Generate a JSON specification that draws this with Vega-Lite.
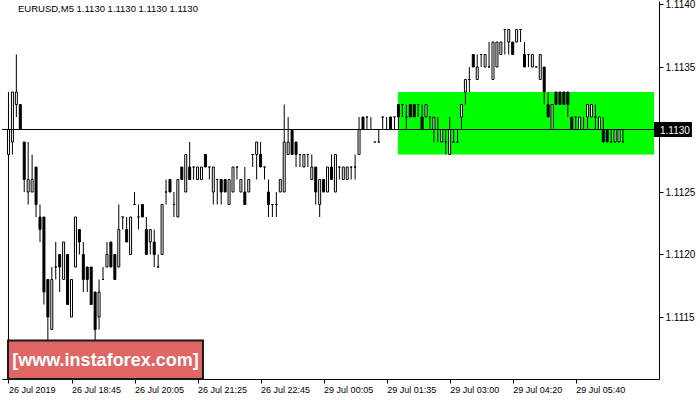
{
  "$schema": "https://vega.github.io/schema/vega-lite/v6.json",
  "width": 657,
  "height": 378,
  "autosize": {"type": "none"},
  "padding": {"left": 2, "top": 1, "right": 41, "bottom": 21},
  "background": "white",
  "config": {"view": {"stroke": null}, "font": "Liberation Sans"},
  "title": {"text": "EURUSD,M5  1.1130 1.1130 1.1130 1.1130", "anchor": "start", "frame": "group", "orient": "top", "offset": -14, "dx": 16, "fontSize": 9.5, "fontWeight": "normal", "color": "black", "font": "Liberation Sans"},
  "datasets": {
    "candles": [
      {"i":0,"o":1.1128,"h":1.1133,"l":1.1112,"c":1.1130},
      {"i":1,"o":1.1129,"h":1.1133,"l":1.1128,"c":1.1133},
      {"i":2,"o":1.1132,"h":1.1136,"l":1.1131,"c":1.1133},
      {"i":3,"o":1.1132,"h":1.1132,"l":1.1130,"c":1.1130},
      {"i":4,"o":1.1129,"h":1.1129,"l":1.1125,"c":1.1126},
      {"i":5,"o":1.1125,"h":1.1129,"l":1.1124,"c":1.1126},
      {"i":6,"o":1.1125,"h":1.1128,"l":1.1125,"c":1.1126},
      {"i":7,"o":1.1127,"h":1.1127,"l":1.1123,"c":1.1124},
      {"i":8,"o":1.1123,"h":1.1124,"l":1.1121,"c":1.1122},
      {"i":9,"o":1.1123,"h":1.1123,"l":1.1116,"c":1.1117},
      {"i":10,"o":1.1118,"h":1.1118,"l":1.1113,"c":1.1115},
      {"i":11,"o":1.1114,"h":1.1119,"l":1.1114,"c":1.1118},
      {"i":12,"o":1.1119,"h":1.1121,"l":1.1118,"c":1.1119},
      {"i":13,"o":1.1120,"h":1.1120,"l":1.1117,"c":1.1119},
      {"i":14,"o":1.1118,"h":1.1121,"l":1.1118,"c":1.1121},
      {"i":15,"o":1.1120,"h":1.1120,"l":1.1116,"c":1.1116},
      {"i":16,"o":1.1115,"h":1.1118,"l":1.1115,"c":1.1118},
      {"i":17,"o":1.1119,"h":1.1123,"l":1.1119,"c":1.1123},
      {"i":18,"o":1.1122,"h":1.1122,"l":1.1120,"c":1.1121},
      {"i":19,"o":1.1120,"h":1.1121,"l":1.1117,"c":1.1118},
      {"i":20,"o":1.1119,"h":1.1119,"l":1.1117,"c":1.1118},
      {"i":21,"o":1.1119,"h":1.1119,"l":1.1116,"c":1.1116},
      {"i":22,"o":1.1117,"h":1.1117,"l":1.1113,"c":1.1114},
      {"i":23,"o":1.1115,"h":1.1118,"l":1.1114,"c":1.1117},
      {"i":24,"o":1.1118,"h":1.1119,"l":1.1118,"c":1.1118},
      {"i":25,"o":1.1119,"h":1.1121,"l":1.1119,"c":1.1120},
      {"i":26,"o":1.1121,"h":1.1121,"l":1.1119,"c":1.1119},
      {"i":27,"o":1.1120,"h":1.1120,"l":1.1118,"c":1.1118},
      {"i":28,"o":1.1119,"h":1.1124,"l":1.1119,"c":1.1122},
      {"i":29,"o":1.1123,"h":1.1123,"l":1.1122,"c":1.1123},
      {"i":30,"o":1.1122,"h":1.1123,"l":1.1121,"c":1.1121},
      {"i":31,"o":1.1120,"h":1.1123,"l":1.1120,"c":1.1123},
      {"i":32,"o":1.1124,"h":1.1125,"l":1.1124,"c":1.1124},
      {"i":33,"o":1.1123,"h":1.1124,"l":1.1122,"c":1.1123},
      {"i":34,"o":1.1124,"h":1.1124,"l":1.1123,"c":1.1123},
      {"i":35,"o":1.1122,"h":1.1123,"l":1.1120,"c":1.1120},
      {"i":36,"o":1.1121,"h":1.1122,"l":1.1120,"c":1.1122},
      {"i":37,"o":1.1121,"h":1.1122,"l":1.1119,"c":1.1120},
      {"i":38,"o":1.1119,"h":1.1120,"l":1.1119,"c":1.1119},
      {"i":39,"o":1.1120,"h":1.1124,"l":1.1120,"c":1.1124},
      {"i":40,"o":1.1125,"h":1.1126,"l":1.1124,"c":1.1125},
      {"i":41,"o":1.1126,"h":1.1126,"l":1.1125,"c":1.1125},
      {"i":42,"o":1.1124,"h":1.1125,"l":1.1123,"c":1.1124},
      {"i":43,"o":1.1123,"h":1.1126,"l":1.1123,"c":1.1126},
      {"i":44,"o":1.1127,"h":1.1127,"l":1.1126,"c":1.1126},
      {"i":45,"o":1.1125,"h":1.1128,"l":1.1125,"c":1.1128},
      {"i":46,"o":1.1127,"h":1.1129,"l":1.1126,"c":1.1126},
      {"i":47,"o":1.1127,"h":1.1127,"l":1.1126,"c":1.1127},
      {"i":48,"o":1.1126,"h":1.1127,"l":1.1126,"c":1.1127},
      {"i":49,"o":1.1126,"h":1.1127,"l":1.1126,"c":1.1127},
      {"i":50,"o":1.1128,"h":1.1128,"l":1.1127,"c":1.1127},
      {"i":51,"o":1.1127,"h":1.1127,"l":1.1126,"c":1.1127},
      {"i":52,"o":1.1125,"h":1.1127,"l":1.1124,"c":1.1127},
      {"i":53,"o":1.1126,"h":1.1126,"l":1.1124,"c":1.1126},
      {"i":54,"o":1.1126,"h":1.1126,"l":1.1124,"c":1.1125},
      {"i":55,"o":1.1126,"h":1.1126,"l":1.1125,"c":1.1125},
      {"i":56,"o":1.1124,"h":1.1126,"l":1.1124,"c":1.1126},
      {"i":57,"o":1.1125,"h":1.1127,"l":1.1125,"c":1.1127},
      {"i":58,"o":1.1127,"h":1.1127,"l":1.1126,"c":1.1127},
      {"i":59,"o":1.1125,"h":1.1126,"l":1.1125,"c":1.1126},
      {"i":60,"o":1.1125,"h":1.1127,"l":1.1124,"c":1.1124},
      {"i":61,"o":1.1125,"h":1.1126,"l":1.1125,"c":1.1126},
      {"i":62,"o":1.1128,"h":1.1128,"l":1.1127,"c":1.1128},
      {"i":63,"o":1.1128,"h":1.1129,"l":1.1126,"c":1.1129},
      {"i":64,"o":1.1128,"h":1.1129,"l":1.1127,"c":1.1127},
      {"i":65,"o":1.1127,"h":1.1127,"l":1.1126,"c":1.1127},
      {"i":66,"o":1.1125,"h":1.1126,"l":1.1123,"c":1.1124},
      {"i":67,"o":1.1124,"h":1.1124,"l":1.1123,"c":1.1124},
      {"i":68,"o":1.1124,"h":1.1125,"l":1.1123,"c":1.1124},
      {"i":69,"o":1.1125,"h":1.1126,"l":1.1125,"c":1.1126},
      {"i":70,"o":1.1125,"h":1.1132,"l":1.1125,"c":1.1129},
      {"i":71,"o":1.1128,"h":1.1131,"l":1.1128,"c":1.1129},
      {"i":72,"o":1.1130,"h":1.1130,"l":1.1128,"c":1.1128},
      {"i":73,"o":1.1129,"h":1.1129,"l":1.1127,"c":1.1128},
      {"i":74,"o":1.1128,"h":1.1128,"l":1.1127,"c":1.1128},
      {"i":75,"o":1.1127,"h":1.1128,"l":1.1127,"c":1.1128},
      {"i":76,"o":1.1128,"h":1.1128,"l":1.1127,"c":1.1128},
      {"i":77,"o":1.1126,"h":1.1128,"l":1.1126,"c":1.1127},
      {"i":78,"o":1.1127,"h":1.1127,"l":1.1124,"c":1.1125},
      {"i":79,"o":1.1124,"h":1.1126,"l":1.1123,"c":1.1126},
      {"i":80,"o":1.1126,"h":1.1126,"l":1.1125,"c":1.1125},
      {"i":81,"o":1.1125,"h":1.1127,"l":1.1125,"c":1.1127},
      {"i":82,"o":1.1127,"h":1.1128,"l":1.1126,"c":1.1126},
      {"i":83,"o":1.1125,"h":1.1128,"l":1.1125,"c":1.1128},
      {"i":84,"o":1.1127,"h":1.1127,"l":1.1126,"c":1.1127},
      {"i":85,"o":1.1126,"h":1.1127,"l":1.1126,"c":1.1127},
      {"i":86,"o":1.1126,"h":1.1127,"l":1.1126,"c":1.1127},
      {"i":87,"o":1.1127,"h":1.1127,"l":1.1126,"c":1.1127},
      {"i":88,"o":1.1127,"h":1.1128,"l":1.1126,"c":1.1127},
      {"i":89,"o":1.1128,"h":1.1131,"l":1.1128,"c":1.1130},
      {"i":90,"o":1.1131,"h":1.1131,"l":1.1130,"c":1.1130},
      {"i":91,"o":1.1131,"h":1.1131,"l":1.1130,"c":1.1131},
      {"i":92,"o":1.1130,"h":1.1131,"l":1.1130,"c":1.1130},
      {"i":93,"o":1.1129,"h":1.1129,"l":1.1129,"c":1.1129},
      {"i":94,"o":1.1129,"h":1.1130,"l":1.1129,"c":1.1129},
      {"i":95,"o":1.1131,"h":1.1131,"l":1.1130,"c":1.1131},
      {"i":96,"o":1.1130,"h":1.1131,"l":1.1130,"c":1.1130},
      {"i":97,"o":1.1131,"h":1.1131,"l":1.1130,"c":1.1130},
      {"i":98,"o":1.1131,"h":1.1131,"l":1.1130,"c":1.1131},
      {"i":99,"o":1.1132,"h":1.1132,"l":1.1130,"c":1.1131},
      {"i":100,"o":1.1132,"h":1.1132,"l":1.1131,"c":1.1132},
      {"i":101,"o":1.1131,"h":1.1132,"l":1.1130,"c":1.1131},
      {"i":102,"o":1.1132,"h":1.1132,"l":1.1131,"c":1.1131},
      {"i":103,"o":1.1132,"h":1.1132,"l":1.1131,"c":1.1131},
      {"i":104,"o":1.1132,"h":1.1132,"l":1.1131,"c":1.1132},
      {"i":105,"o":1.1131,"h":1.1132,"l":1.1130,"c":1.1130},
      {"i":106,"o":1.1131,"h":1.1132,"l":1.1131,"c":1.1132},
      {"i":107,"o":1.1131,"h":1.1131,"l":1.1130,"c":1.1131},
      {"i":108,"o":1.1130,"h":1.1131,"l":1.1129,"c":1.1131},
      {"i":109,"o":1.1130,"h":1.1131,"l":1.1129,"c":1.1130},
      {"i":110,"o":1.1129,"h":1.1130,"l":1.1129,"c":1.1130},
      {"i":111,"o":1.1129,"h":1.1130,"l":1.1128,"c":1.1129},
      {"i":112,"o":1.1128,"h":1.1131,"l":1.1128,"c":1.1130},
      {"i":113,"o":1.1129,"h":1.1130,"l":1.1129,"c":1.1129},
      {"i":114,"o":1.1129,"h":1.1130,"l":1.1129,"c":1.1129},
      {"i":115,"o":1.1131,"h":1.1132,"l":1.1130,"c":1.1132},
      {"i":116,"o":1.1133,"h":1.1134,"l":1.1132,"c":1.1134},
      {"i":117,"o":1.1134,"h":1.1135,"l":1.1133,"c":1.1134},
      {"i":118,"o":1.1136,"h":1.1136,"l":1.1135,"c":1.1135},
      {"i":119,"o":1.1134,"h":1.1136,"l":1.1134,"c":1.1135},
      {"i":120,"o":1.1136,"h":1.1136,"l":1.1135,"c":1.1136},
      {"i":121,"o":1.1135,"h":1.1136,"l":1.1135,"c":1.1136},
      {"i":122,"o":1.1135,"h":1.1137,"l":1.1135,"c":1.1135},
      {"i":123,"o":1.1134,"h":1.1137,"l":1.1134,"c":1.1137},
      {"i":124,"o":1.1135,"h":1.1137,"l":1.1135,"c":1.1137},
      {"i":125,"o":1.1136,"h":1.1137,"l":1.1136,"c":1.1137},
      {"i":126,"o":1.1138,"h":1.1138,"l":1.1136,"c":1.1138},
      {"i":127,"o":1.1137,"h":1.1138,"l":1.1136,"c":1.1138},
      {"i":128,"o":1.1137,"h":1.1137,"l":1.1136,"c":1.1136},
      {"i":129,"o":1.1137,"h":1.1138,"l":1.1137,"c":1.1138},
      {"i":130,"o":1.1138,"h":1.1138,"l":1.1137,"c":1.1138},
      {"i":131,"o":1.1136,"h":1.1137,"l":1.1135,"c":1.1135},
      {"i":132,"o":1.1136,"h":1.1136,"l":1.1135,"c":1.1136},
      {"i":133,"o":1.1135,"h":1.1136,"l":1.1135,"c":1.1136},
      {"i":134,"o":1.1135,"h":1.1135,"l":1.1135,"c":1.1135},
      {"i":135,"o":1.1134,"h":1.1136,"l":1.1134,"c":1.1136},
      {"i":136,"o":1.1135,"h":1.1135,"l":1.1132,"c":1.1133},
      {"i":137,"o":1.1132,"h":1.1133,"l":1.1131,"c":1.1131},
      {"i":138,"o":1.1130,"h":1.1132,"l":1.1130,"c":1.1132},
      {"i":139,"o":1.1133,"h":1.1133,"l":1.1132,"c":1.1132},
      {"i":140,"o":1.1133,"h":1.1133,"l":1.1132,"c":1.1132},
      {"i":141,"o":1.1133,"h":1.1133,"l":1.1132,"c":1.1132},
      {"i":142,"o":1.1133,"h":1.1133,"l":1.1131,"c":1.1132},
      {"i":143,"o":1.1131,"h":1.1131,"l":1.1130,"c":1.1130},
      {"i":144,"o":1.1131,"h":1.1131,"l":1.1130,"c":1.1131},
      {"i":145,"o":1.1130,"h":1.1131,"l":1.1130,"c":1.1131},
      {"i":146,"o":1.1130,"h":1.1131,"l":1.1130,"c":1.1130},
      {"i":147,"o":1.1131,"h":1.1132,"l":1.1130,"c":1.1132},
      {"i":148,"o":1.1131,"h":1.1132,"l":1.1131,"c":1.1132},
      {"i":149,"o":1.1131,"h":1.1132,"l":1.1130,"c":1.1131},
      {"i":150,"o":1.1130,"h":1.1131,"l":1.1130,"c":1.1131},
      {"i":151,"o":1.1130,"h":1.1131,"l":1.1129,"c":1.1129},
      {"i":152,"o":1.1130,"h":1.1130,"l":1.1129,"c":1.1129},
      {"i":153,"o":1.1129,"h":1.1130,"l":1.1129,"c":1.1129},
      {"i":154,"o":1.1129,"h":1.1130,"l":1.1129,"c":1.1130},
      {"i":155,"o":1.1129,"h":1.1130,"l":1.1129,"c":1.1130},
      {"i":156,"o":1.1129,"h":1.1130,"l":1.1129,"c":1.1129}
    ],
    "zone": [{"x0": 98.9, "x1": 163.875, "lo": 1.1128, "hi": 1.1133}],
    "price": [{"p": 1.1130, "label": "1.1130", "lo": 1.11294, "hi": 1.11306}],
    "mark": [{"text": "[www.instaforex.com]", "x0": -0.125, "x1": 49.375, "top": 1.111313, "bottom": 1.111004, "mid": 24.625, "ty": 1.11116}]
  },
  "layer": [
    {
      "data": {"name": "zone"},
      "mark": {"type": "rect", "color": "#00FF00"},
      "encoding": {
        "x": {"field": "x0", "type": "quantitative", "scale": {"domain": [-0.375, 163.875], "nice": false, "zero": false},
          "axis": {"values": [0, 16, 32, 48, 64, 80, 96, 112, 128, 144], "labelExpr": "{'0':'26 Jul 2019','16':'26 Jul 18:45','32':'26 Jul 20:05','48':'26 Jul 21:25','64':'26 Jul 22:45','80':'29 Jul 00:05','96':'29 Jul 01:35','112':'29 Jul 03:00','128':'29 Jul 04:20','144':'29 Jul 05:40'}[datum.value]", "title": null, "grid": false, "domainColor": "black", "tickColor": "black", "tickSize": 4, "labelAlign": "left", "labelFontSize": 9, "labelColor": "black", "labelPadding": 2, "labelFont": "Liberation Sans", "labelOverlap": false, "labelBound": false, "labelFlush": false}},
        "x2": {"field": "x1"},
        "y": {"field": "lo", "type": "quantitative", "scale": {"domain": [1.111004, 1.114028], "nice": false, "zero": false},
          "axis": {"orient": "right", "values": [1.1115, 1.112, 1.1125, 1.1135, 1.114], "format": ".4f", "title": null, "grid": false, "domainColor": "black", "tickColor": "black", "tickSize": 4, "labelFontSize": 10, "labelColor": "black", "labelPadding": 2, "labelFont": "Liberation Sans", "labelOverlap": false, "labelBound": false, "labelFlush": false}},
        "y2": {"field": "hi"}
      }
    },
    {
      "data": {"name": "candles"},
      "mark": {"type": "rule", "color": "black", "strokeWidth": 1},
      "encoding": {
        "x": {"field": "i", "type": "quantitative"},
        "y": {"field": "l", "type": "quantitative"},
        "y2": {"field": "h"}
      }
    },
    {
      "data": {"name": "candles"},
      "mark": {"type": "bar", "size": 2, "stroke": "black", "strokeWidth": 1},
      "encoding": {
        "x": {"field": "i", "type": "quantitative"},
        "y": {"field": "o", "type": "quantitative"},
        "y2": {"field": "c"},
        "fill": {"condition": {"test": "datum.c < datum.o", "value": "black"}, "value": "white"}
      }
    },
    {
      "data": {"name": "price"},
      "mark": {"type": "rule", "color": "black", "strokeWidth": 1},
      "encoding": {"y": {"field": "p", "type": "quantitative"}}
    },
    {
      "data": {"name": "price"},
      "mark": {"type": "rect", "color": "black", "clip": false},
      "encoding": {
        "x": {"datum": 163.875},
        "x2": {"datum": 173.5},
        "y": {"field": "lo", "type": "quantitative"},
        "y2": {"field": "hi"}
      }
    },
    {
      "data": {"name": "price"},
      "mark": {"type": "text", "color": "white", "font": "Liberation Sans", "fontSize": 10, "align": "left", "baseline": "middle", "dx": 6, "dy": 1, "clip": false},
      "encoding": {
        "x": {"datum": 163.875},
        "y": {"field": "p", "type": "quantitative"},
        "text": {"field": "label"}
      }
    },
    {
      "data": {"name": "mark"},
      "mark": {"type": "rect", "color": "#E06666", "stroke": "#1a1a1a", "strokeWidth": 2},
      "encoding": {
        "x": {"field": "x0", "type": "quantitative"},
        "x2": {"field": "x1"},
        "y": {"field": "top", "type": "quantitative"},
        "y2": {"field": "bottom"}
      }
    },
    {
      "data": {"name": "mark"},
      "mark": {"type": "text", "color": "white", "font": "Liberation Sans", "fontWeight": "bold", "fontSize": 18, "align": "center", "baseline": "middle", "dy": 1},
      "encoding": {
        "x": {"field": "mid", "type": "quantitative"},
        "y": {"field": "ty", "type": "quantitative"},
        "text": {"field": "text"}
      }
    }
  ]
}
